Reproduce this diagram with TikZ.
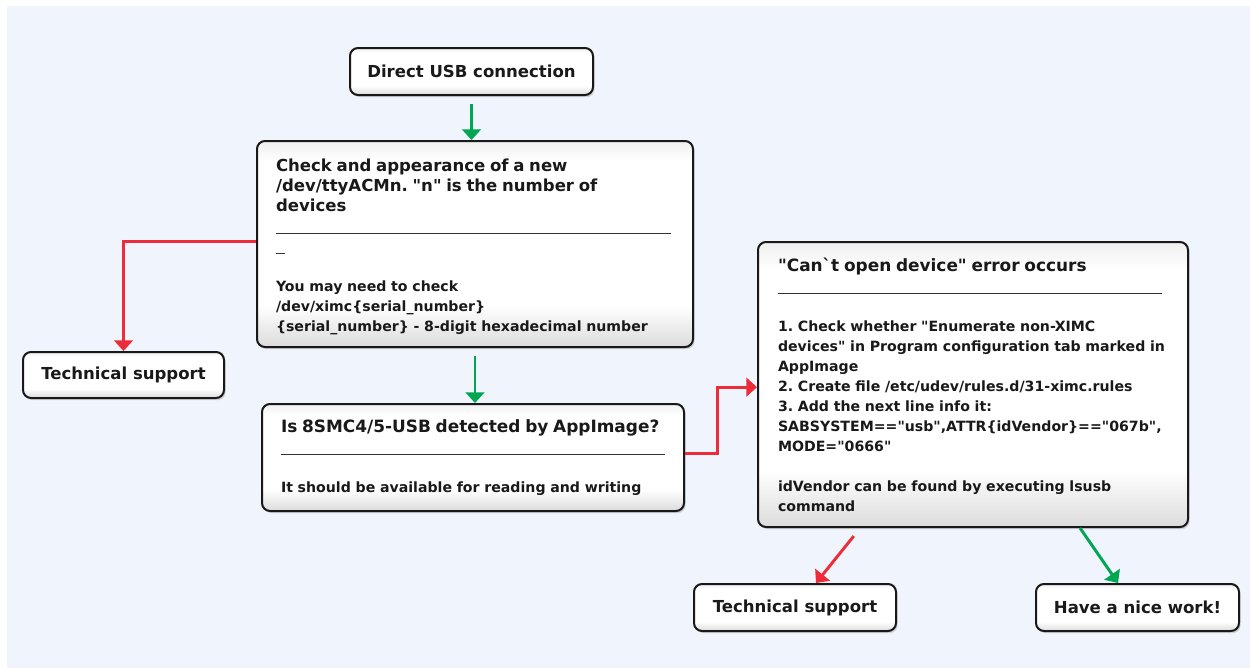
\documentclass[tikz,border=0pt]{standalone}
\usepackage{fontspec}
\setmainfont{DejaVu Sans}[Ligatures=TeXOff]
\usetikzlibrary{shadows,arrows.meta,calc}
\definecolor{bgc}{HTML}{F0F4FD}
\definecolor{garrowc}{HTML}{00A651}
\definecolor{rarrowc}{HTML}{EC2D39}
\definecolor{rulec}{HTML}{333333}
\pgfdeclareverticalshading{boxshade}{100bp}{color(0bp)=(black!14); color(25bp)=(black!14); color(35bp)=(white); color(70bp)=(white); color(75bp)=(black!6); color(100bp)=(black!6)}
\newcommand\mytitlefont{\fontsize{12.4}{15}\selectfont}
\newcommand\mybigtitlefont{\fontsize{12.7}{15}\selectfont}
\newcommand\mybodyfont{\fontsize{10.6}{15}\selectfont}
\newcommand\myline[1]{{\color{rulec}\rule[-2pt]{#1}{1pt}}}
\tikzset{
  boxbase/.style={draw=black!90, line width=1.5pt, rounded corners=6pt, shading=boxshade,
    drop shadow={opacity=0.3, shadow xshift=1.2pt, shadow yshift=-1.6pt},
    text=black!90},
  sbox/.style={boxbase, font=\bfseries\mytitlefont, inner sep=2pt},
  tbox/.style={boxbase, font=\bfseries\mybodyfont\frenchspacing, align=left, inner ysep=2pt},
  arr/.style={line width=2.2pt, -{Triangle[width=14pt,length=8pt]}},
  garrow/.style={arr, garrowc},
  rarrow/.style={arr, rarrowc}
}
\begin{document}
\begin{tikzpicture}[x=0.75pt,y=-0.75pt]
\useasboundingbox (0,0) rectangle (1250,668);
\fill[bgc] (7,6) rectangle (1250,668);

\node[sbox, minimum width=182.25pt, minimum height=35.25pt] (usb) at (471.5,71.5) {Direct USB connection};

\node[tbox, minimum width=327pt, minimum height=154.5pt, text width=298.5pt, inner xsep=14.25pt] (chk) at (475,244)
{\rule{0pt}{14pt}\mytitlefont Check and appearance of a new\\
/dev/ttyACMn. "n" is the number of\\
devices\\
\mybodyfont\myline{296pt}\\
\myline{6.75pt}\\
\mbox{}\\
You may need to check\\
/dev/ximc\{serial\_number\}\\
\{serial\_number\} - 8-digit hexadecimal number};

\node[sbox, minimum width=150.75pt, minimum height=34.5pt] (ts1) at (123.5,375) {Technical support};

\node[tbox, minimum width=316.5pt, minimum height=80.25pt, text width=288pt, inner xsep=14.25pt] (det) at (473,457.5)
{\mybigtitlefont Is 8SMC4/5-USB detected by AppImage?\\
\mybodyfont\myline{288pt}\\
\mbox{}\\
It should be available for reading and writing};

\node[tbox, minimum width=322.5pt, minimum height=213.75pt, text width=292.5pt, inner xsep=15pt] (cant) at (973,384.5)
{\mybigtitlefont "Can`t open device" error occurs\\
\mybodyfont\myline{288pt}\\
\mbox{}\\
1. Check whether "Enumerate non-XIMC\\
devices" in Program configuration tab marked in\\
AppImage\\
2. Create file /etc/udev/rules.d/31-ximc.rules\\
3. Add the next line info it:\\
SABSYSTEM=="usb",ATTR\{idVendor\}=="067b",\\
MODE="0666"\\
\mbox{}\\
idVendor can be found by executing lsusb\\
command};

\node[sbox, minimum width=151.5pt, minimum height=35.25pt] (ts2) at (795,607.5) {Technical support};
\node[sbox, minimum width=152.25pt, minimum height=35.25pt] (nice) at (1137.5,607.5) {Have a nice work!};

\draw[garrow] ([yshift=-6pt]usb.south) -- (usb.south |- chk.north);
\draw[garrow] ([yshift=-6pt]chk.south) -- (chk.south |- det.north);
\draw[rarrow] ([yshift=2pt]chk.west) -| (ts1.north);
\draw[rarrow] ([yshift=3pt]det.east) -- ++(24.5pt,0) |- ([yshift=-2pt]cant.west);
\draw[rarrow] ([xshift=-89.4pt,yshift=-6pt]cant.south) -- ([xshift=15.75pt]ts2.north);
\draw[garrow] ([xshift=80.25pt]cant.south) -- ([xshift=-14.6pt]nice.north);
\end{tikzpicture}
\end{document}
